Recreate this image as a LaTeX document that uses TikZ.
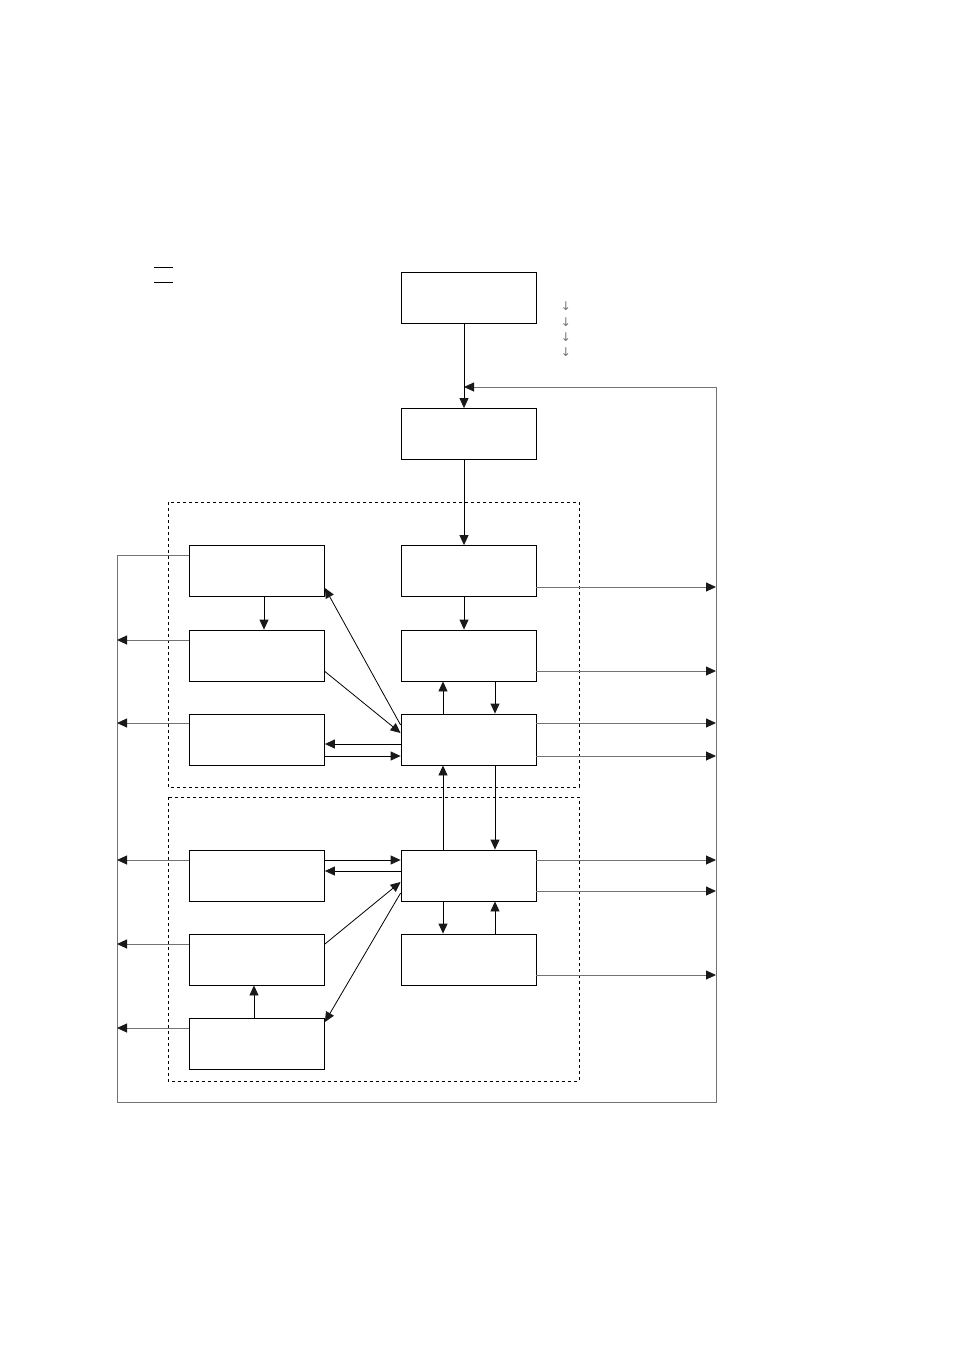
\documentclass[tikz,border=0pt]{standalone}
\usepackage{fontspec}
\newfontfamily\symfont{DejaVu Sans}
\usetikzlibrary{arrows.meta}

\tikzset{
  blk/.style={draw, line width=0.8pt, minimum width=135pt, minimum height=51pt, inner sep=0pt},
  grp/.style={draw, dashed, line width=0.7pt},
  tip/.style={-{Triangle[length=10pt,width=9pt,color=black!90]}},
  ln/.style={line width=0.8pt},
  gln/.style={line width=0.9pt, black!55},
}

\begin{document}
\begin{tikzpicture}[x=1pt, y=-1pt]
    \useasboundingbox (0,0) rectangle (954,1350);
    % groups
    \draw[grp] (168,502) rectangle (579,787);
    \draw[grp] (168,797) rectangle (579,1081);
    % blocks
    \node[blk] (A) at (468.5,297.5) {};
    \node[blk] (B) at (468.5,434) {};
    \node[blk] (L1) at (257,571) {};
    \node[blk] (L2) at (257,655.5) {};
    \node[blk] (L3) at (257,739.5) {};
    \node[blk] (L4) at (257,875.5) {};
    \node[blk] (L5) at (257,959.5) {};
    \node[blk] (L6) at (257,1043.5) {};
    \node[blk] (R1) at (468.5,571) {};
    \node[blk] (R2) at (468.5,655.5) {};
    \node[blk] (R3) at (468.5,739.5) {};
    \node[blk] (R4) at (468.5,875.5) {};
    \node[blk] (R5) at (468.5,959.5) {};
    % marks at top
    \draw[ln] (154,267) -- (173,267);
    \draw[ln] (154,282) -- (173,282);
    \foreach \y in {306,322,337,352}
        \node[black!55, font=\symfont\fontsize{12}{12}\selectfont] (m\y) at (566,\y) {↓};
    % feedback loop
    \coordinate (lpTL) at (117,555);
    \coordinate (lpBL) at (117,1102);
    \coordinate (lpBR) at (716,1102);
    \coordinate (lpTR) at (716,387);
    \coordinate (lpIn) at (464,387);
    \draw[gln] (L1.west |- lpTL) -- (lpTL) -- (lpBL) -- (lpBR) -- (lpTR);
    \draw[gln, tip] (lpTR) -- (lpIn);
    % main chain
    \draw[ln, tip] (A.south -| lpIn) -- (B.north -| lpIn);
    \draw[ln, tip] (B.south -| lpIn) -- (R1.north -| lpIn);
    \draw[ln, tip] (R1.south -| lpIn) -- (R2.north -| lpIn);
    \draw[ln, tip] (R3.north -| 443,0) -- (R2.south -| 443,0);
    \draw[ln, tip] (R2.south -| 495,0) -- (R3.north -| 495,0);
    \draw[ln, tip] (R4.north -| 443,0) -- (R3.south -| 443,0);
    \draw[ln, tip] (R3.south -| 495,0) -- (R4.north -| 495,0);
    \draw[ln, tip] (R4.south -| 443,0) -- (R5.north -| 443,0);
    \draw[ln, tip] (R5.north -| 495,0) -- (R4.south -| 495,0);
    \draw[ln, tip] (L1.south -| 264,0) -- (L2.north -| 264,0);
    \draw[ln, tip] (L6.north -| 254,0) -- (L5.south -| 254,0);
    % cross links, upper group
    \draw[ln, tip] (R3.west |- 0,725) -- ([yshift=-17pt]L1.east);
    \draw[ln, tip] ([yshift=-16pt]L2.east) -- (R3.west |- 0,733);
    \draw[ln, tip] (R3.west |- 0,744) -- (L3.east |- 0,744);
    \draw[ln, tip] (L3.east |- 0,756) -- (R3.west |- 0,756);
    % cross links, lower group
    \draw[ln, tip] (L4.east |- 0,860) -- (R4.west |- 0,860);
    \draw[ln, tip] (R4.west |- 0,871) -- (L4.east |- 0,871);
    \draw[ln, tip] (L5.east |- 0,944) -- (R4.west |- 0,882);
    \draw[ln, tip] (R4.west |- 0,893) -- ([yshift=21.5pt]L6.east);
    % outputs to the left
    \foreach \b/\y in {L2/640, L3/723, L4/860, L5/944, L6/1028}
        \draw[gln, tip] (\b.west |- 0,\y) -- (lpBL |- 0,\y);
    % outputs to the right
    \foreach \b/\y in {R1/587, R2/671, R3/723, R3/756, R4/860, R4/891, R5/975}
        \draw[gln, tip] (\b.east |- 0,\y) -- (lpBR |- 0,\y);
\end{tikzpicture}
\end{document}
